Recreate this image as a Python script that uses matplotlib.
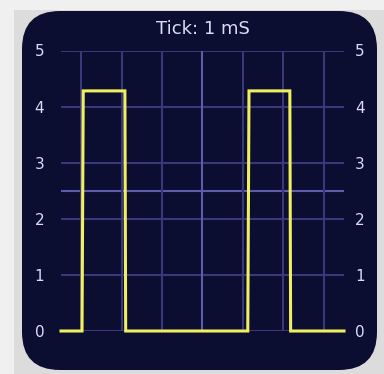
import matplotlib
matplotlib.use('Agg')
import matplotlib.pyplot as plt
from matplotlib.patches import FancyBboxPatch, Rectangle
from matplotlib.transforms import IdentityTransform

# signal: time (divisions) vs volts
sig_t = [0.0, 0.52, 0.55, 1.58, 1.60, 4.62, 4.65, 5.66, 5.68, 7.0]
sig_v = [0.0, 0.0, 4.28, 4.28, 0.0, 0.0, 4.28, 4.28, 0.0, 0.0]
y_ticks = [0, 1, 2, 3, 4, 5]
x_grid = [0.5, 1.5, 2.5, 3.5, 4.5, 5.5, 6.5]
title = 'Tick: 1 mS'

W, H = 384, 374
fig = plt.figure(figsize=(W / 100, H / 100), dpi=100, facecolor='#f0f0f0')

# grey panel + rounded dark screen (pixel coords)
fig.add_artist(Rectangle((14, 0), 370, 364, transform=IdentityTransform(),
                         facecolor='#dcdcdc', edgecolor='none', zorder=0))
fig.add_artist(FancyBboxPatch((22, 4), 355, 359, boxstyle='round,pad=0,rounding_size=38',
                              transform=IdentityTransform(),
                              facecolor='#0b0e30', edgecolor='none', zorder=0))

ax = fig.add_axes([61 / W, (H - 331) / H, 283 / W, 280.5 / H])
ax.set_facecolor('none')
ax.set_xlim(0, 7)
ax.set_ylim(0, 5)
for s in ax.spines.values():
    s.set_visible(False)

grid_c = '#38387a'
mid_c = '#5c5cac'
for y in y_ticks:
    ax.axhline(y, color=grid_c, lw=1.5, zorder=1)
ax.axhline(2.5, color=mid_c, lw=1.5, zorder=1)
for x in x_grid:
    ax.axvline(x, color=mid_c if x == 3.5 else grid_c, lw=1.5, zorder=1)

ax.plot(sig_t, sig_v, color='#f2ef5c', lw=2.2, clip_on=False, zorder=3,
        solid_joinstyle='miter')

lbl_c = '#d8def5'
ax.set_xticks([])
ax.set_yticks(y_ticks)
ax.set_yticklabels([str(v) for v in y_ticks])
ax.tick_params(axis='y', length=0, labelsize=11, labelcolor=lbl_c, pad=12)

# right side labels
ax2 = ax.twinx()
ax2.set_ylim(0, 5)
for s in ax2.spines.values():
    s.set_visible(False)
ax2.set_yticks(y_ticks)
ax2.set_yticklabels([str(v) for v in y_ticks])
ax2.tick_params(axis='y', length=0, labelsize=11, labelcolor=lbl_c, pad=8)

ax.set_title(title, color=lbl_c, fontsize=13, pad=12)

fig.savefig('out.png', dpi=100, facecolor=fig.get_facecolor())
